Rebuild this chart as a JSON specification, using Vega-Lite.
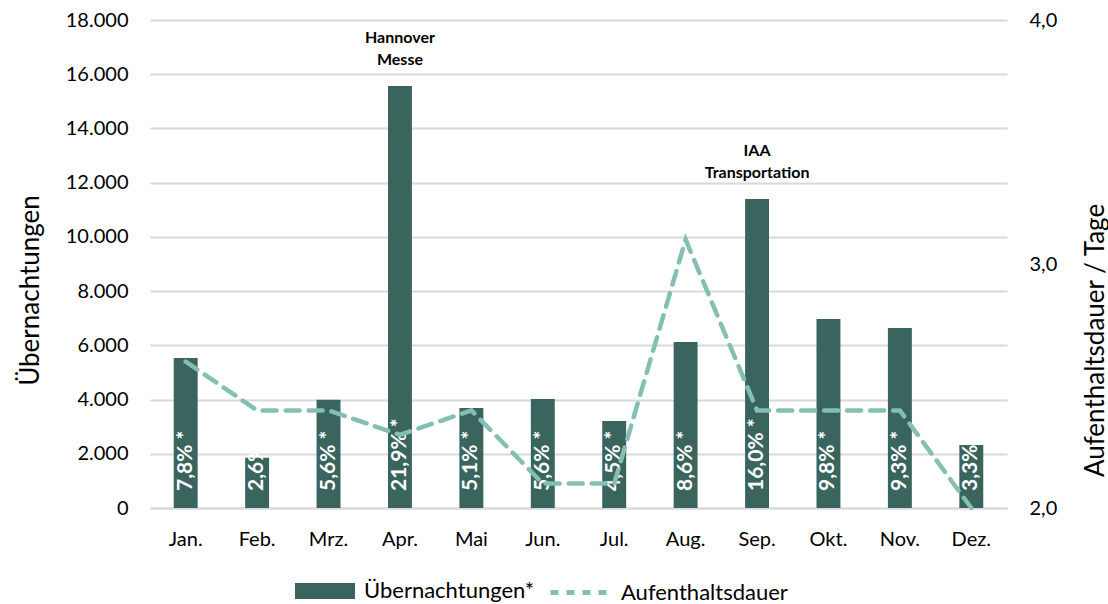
{
  "$schema": "https://vega.github.io/schema/vega-lite/v6.json",
  "width": 857,
  "height": 488,
  "autosize": "none",
  "padding": {"left": 150, "top": 20, "right": 101, "bottom": 96},
  "config": {
    "font": "Lato",
    "view": {"stroke": null},
    "locale": {"number": {"decimal": ",", "thousands": ".", "grouping": [3], "currency": ["", " €"]}},
    "axis": {"labelColor": "#000", "titleColor": "#000", "labelFontSize": 20, "titleFontSize": 26, "titleFontWeight": "normal"},
    "legend": {"labelColor": "#000", "labelFontSize": 22, "labelLimit": 400}
  },
  "data": {
    "values": [
      {"monat": "Jan.", "uebernachtungen": 5530, "dauer": 2.6, "anteil": "7,8% *", "note": null},
      {"monat": "Feb.", "uebernachtungen": 1850, "dauer": 2.4, "anteil": "2,6% *", "note": null},
      {"monat": "Mrz.", "uebernachtungen": 3990, "dauer": 2.4, "anteil": "5,6% *", "note": null},
      {"monat": "Apr.", "uebernachtungen": 15570, "dauer": 2.3, "anteil": "21,9% *", "note": "Hannover|Messe"},
      {"monat": "Mai", "uebernachtungen": 3690, "dauer": 2.4, "anteil": "5,1% *", "note": null},
      {"monat": "Jun.", "uebernachtungen": 4020, "dauer": 2.1, "anteil": "5,6% *", "note": null},
      {"monat": "Jul.", "uebernachtungen": 3210, "dauer": 2.1, "anteil": "4,5% *", "note": null},
      {"monat": "Aug.", "uebernachtungen": 6120, "dauer": 3.1, "anteil": "8,6% *", "note": null},
      {"monat": "Sep.", "uebernachtungen": 11400, "dauer": 2.4, "anteil": "16,0% *", "note": "IAA|Transportation"},
      {"monat": "Okt.", "uebernachtungen": 6970, "dauer": 2.4, "anteil": "9,8% *", "note": null},
      {"monat": "Nov.", "uebernachtungen": 6640, "dauer": 2.4, "anteil": "9,3% *", "note": null},
      {"monat": "Dez.", "uebernachtungen": 2320, "dauer": 2.0, "anteil": "3,3% *", "note": null}
    ]
  },
  "encoding": {
    "x": {
      "field": "monat", "type": "nominal", "sort": null,
      "scale": {"paddingInner": 0.665, "paddingOuter": 0.3325},
      "axis": {"title": null, "labelAngle": 0, "ticks": false, "domainColor": "#d9d9d9", "domainWidth": 2, "labelPadding": 21}
    }
  },
  "layer": [
    {
      "encoding": {
        "y": {
          "field": "uebernachtungen", "type": "quantitative",
          "scale": {"domain": [0, 18000], "nice": false},
          "axis": {"title": "Übernachtungen", "values": [0, 2000, 4000, 6000, 8000, 10000, 12000, 14000, 16000, 18000], "format": ",d", "grid": true, "gridColor": "#d9d9d9", "gridWidth": 2, "domain": false, "ticks": false, "labelPadding": 22, "titleX": -120, "titleY": 270, "titleAngle": 270, "titleAlign": "center", "titleBaseline": "middle"}
        }
      },
      "layer": [
        {
          "mark": {"type": "bar"},
          "encoding": {
            "color": {"datum": "Übernachtungen*", "type": "nominal", "scale": {"range": ["#3A645E"]},
              "legend": {"title": null, "orient": "none", "legendX": 144, "legendY": 540, "symbolType": "M-1,-0.27H1V0.27H-1Z", "symbolSize": 3600, "labelOffset": 8}}
          }
        },
        {
          "mark": {"type": "text", "angle": 270, "align": "left", "baseline": "middle", "dx": 17, "color": "white", "fontWeight": "bold", "fontSize": 21},
          "encoding": {"y": {"datum": 0}, "text": {"field": "anteil"}}
        },
        {
          "transform": [{"filter": "datum.note != null"}],
          "mark": {"type": "text", "baseline": "bottom", "dy": -40, "fontWeight": "bold", "fontSize": 16, "lineBreak": "|", "lineHeight": 22, "color": "#000"},
          "encoding": {"text": {"field": "note"}}
        }
      ]
    },
    {
      "mark": {"type": "line", "strokeWidth": 4.5, "strokeDash": [14, 9], "strokeCap": "round"},
      "encoding": {
        "y": {
          "field": "dauer", "type": "quantitative",
          "scale": {"domain": [2, 4], "nice": false},
          "axis": {"orient": "right", "title": "Aufenthaltsdauer / Tage", "titleX": 88, "titleY": 320, "titleAngle": 270, "titleAlign": "center", "titleBaseline": "middle", "values": [2, 3, 4], "format": ".1f", "grid": false, "domain": false, "ticks": false, "labelPadding": 22}
        },
        "stroke": {"datum": "Aufenthaltsdauer", "type": "nominal", "scale": {"range": ["#84BFB4"]},
          "legend": {"title": null, "orient": "none", "legendX": 398, "legendY": 540, "symbolType": "stroke", "symbolSize": 3600, "symbolStrokeWidth": 5, "symbolDash": [8, 8], "labelOffset": 8}}
      }
    }
  ],
  "resolve": {"scale": {"y": "independent"}}
}
